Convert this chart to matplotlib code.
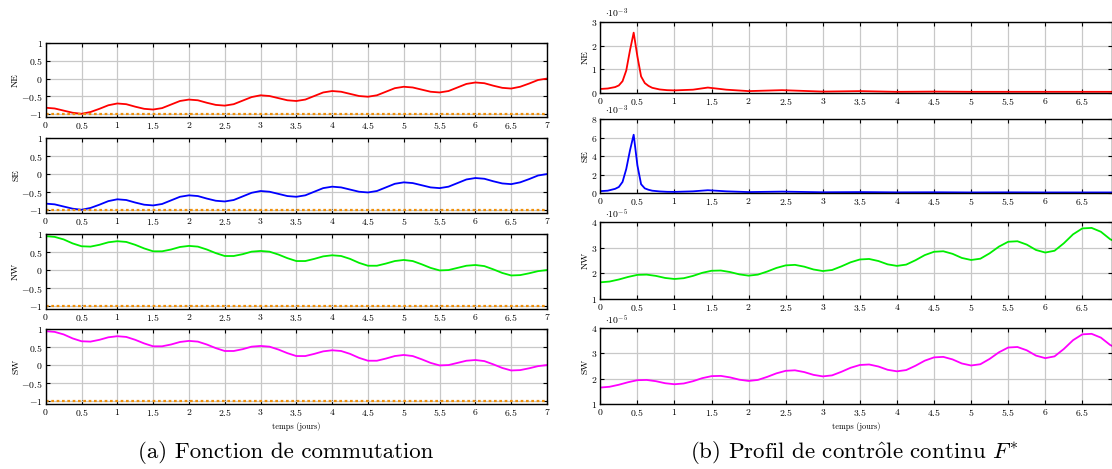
import numpy as np
import matplotlib
matplotlib.use("Agg")
import matplotlib.pyplot as plt
from matplotlib.ticker import FuncFormatter

plt.rcParams['font.family'] = 'serif'
plt.rcParams['font.serif'] = ['cmr10']
plt.rcParams['mathtext.fontset'] = 'cm'
plt.rcParams['axes.formatter.use_mathtext'] = True

# temps (jours), pas de 0.125
temps = np.arange(57) * 0.125

# (a) fonction de commutation
ne_gauche = [-0.82, -0.84, -0.90, -0.96, -0.99, -0.94, -0.85, -0.75, -0.70, -0.72, -0.79, -0.85,
             -0.87, -0.83, -0.73, -0.63, -0.59, -0.61, -0.68, -0.74, -0.76, -0.72, -0.62, -0.52,
             -0.47, -0.49, -0.55, -0.61, -0.63, -0.59, -0.49, -0.39, -0.35, -0.37, -0.43, -0.49,
             -0.51, -0.47, -0.37, -0.27, -0.23, -0.25, -0.31, -0.37, -0.39, -0.35, -0.25, -0.15,
             -0.11, -0.13, -0.20, -0.26, -0.28, -0.23, -0.14, -0.04, 0.00]
se_gauche = list(ne_gauche)
nw_gauche = [0.94, 0.92, 0.85, 0.74, 0.66, 0.65, 0.70, 0.77, 0.80, 0.78, 0.70, 0.60,
             0.52, 0.52, 0.57, 0.64, 0.67, 0.65, 0.57, 0.47, 0.39, 0.39, 0.44, 0.51,
             0.53, 0.51, 0.43, 0.33, 0.25, 0.25, 0.31, 0.38, 0.41, 0.39, 0.31, 0.20,
             0.12, 0.12, 0.18, 0.25, 0.28, 0.25, 0.16, 0.06, -0.01, 0.00, 0.06, 0.12,
             0.14, 0.11, 0.02, -0.08, -0.15, -0.14, -0.09, -0.03, 0.00]
sw_gauche = list(nw_gauche)
seuil = -1.0

# (b) profil de controle continu
temps_pic = [0, 0.1, 0.2, 0.25, 0.3, 0.35, 0.4, 0.45, 0.5, 0.55, 0.6, 0.65, 0.7, 0.8, 0.9,
             1.0, 1.25, 1.45, 1.7, 2.0, 2.45, 3.0, 3.5, 4.0, 4.5, 5.0, 5.5, 6.0, 6.5, 7.0]
ne_droite = [0.17, 0.19, 0.25, 0.32, 0.50, 0.95, 1.80, 2.55, 1.55, 0.70, 0.42, 0.30, 0.22, 0.15, 0.12,
             0.11, 0.14, 0.23, 0.14, 0.08, 0.12, 0.06, 0.08, 0.05, 0.06, 0.05, 0.05, 0.05, 0.05, 0.05]  # x1e-3
se_droite = [0.20, 0.25, 0.45, 0.65, 1.20, 2.60, 4.60, 6.30, 3.00, 0.95, 0.50, 0.35, 0.25, 0.17, 0.13,
             0.12, 0.18, 0.30, 0.18, 0.10, 0.15, 0.08, 0.10, 0.07, 0.08, 0.06, 0.07, 0.06, 0.06, 0.06]  # x1e-3
nw_droite = [1.65, 1.68, 1.76, 1.86, 1.94, 1.95, 1.90, 1.82, 1.78, 1.81, 1.90, 2.02,
             2.10, 2.11, 2.05, 1.96, 1.91, 1.95, 2.07, 2.21, 2.31, 2.33, 2.26, 2.15,
             2.09, 2.13, 2.27, 2.43, 2.54, 2.56, 2.48, 2.35, 2.29, 2.34, 2.51, 2.71,
             2.84, 2.86, 2.76, 2.60, 2.52, 2.57, 2.78, 3.04, 3.23, 3.25, 3.12, 2.91,
             2.81, 2.88, 3.17, 3.52, 3.75, 3.77, 3.62, 3.33, 3.15]  # x1e-5
sw_droite = list(nw_droite)

W, H = 1112, 469
fig = plt.figure(figsize=(W / 100, H / 100), dpi=100)

def axe(x0, x1, y0, y1):
    return fig.add_axes([x0 / W, 1 - y1 / H, (x1 - x0) / W, (y1 - y0) / H])

fmt = FuncFormatter(lambda v, p: f'${v:g}$')

def style(ax, xmax, xt):
    ax.set_xlim(0, xmax)
    ax.set_xticks(xt)
    ax.xaxis.set_major_formatter(fmt)
    ax.yaxis.set_major_formatter(fmt)
    ax.grid(True, color='#c8c8c8', lw=0.9)
    ax.set_axisbelow(True)
    ax.tick_params(direction='in', top=True, right=True, labelsize=7, length=3,
                   width=0.8, pad=2)
    for s in ax.spines.values():
        s.set_linewidth(1.0)

# colonne de gauche
gauche = [(ne_gauche, 'red', 'NE', 43, 117), (se_gauche, 'blue', 'SE', 138, 213),
          (nw_gauche, '#00ee00', 'NW', 234, 309), (sw_gauche, 'magenta', 'SW', 329, 404)]
for serie, c, nom, y0, y1 in gauche:
    ax = axe(45.7, 547, y0, y1)
    ax.plot(temps, serie, color=c, lw=1.3)
    ax.axhline(seuil, color='#f0900a', lw=1.6, ls=(0, (1.2, 1.2)))
    ax.set_ylim(-1.08, 1)
    ax.set_yticks([-1, -0.5, 0, 0.5, 1])
    style(ax, 7, np.arange(0, 7.01, 0.5))
    ax.set_ylabel(nom, fontsize=7, labelpad=1)
ax.set_xlabel('temps (jours)', fontsize=6, labelpad=3)

# colonne de droite
droite = [(temps_pic, ne_droite, 'red', 'NE', 22, 93, (0, 3), [0, 1, 2, 3], -3),
          (temps_pic, se_droite, 'blue', 'SE', 119, 193, (0, 8), [0, 2, 4, 6, 8], -3),
          (temps, nw_droite, '#00ee00', 'NW', 222, 299, (1, 4), [1, 2, 3, 4], -5),
          (temps, sw_droite, 'magenta', 'SW', 328, 404, (1, 4), [1, 2, 3, 4], -5)]
for tx, serie, c, nom, y0, y1, yl, yt, ex in droite:
    ax = axe(600.3, 1112, y0, y1)
    ax.plot(tx, serie, color=c, lw=1.3)
    ax.set_ylim(*yl)
    ax.set_yticks(yt)
    style(ax, 6.9, np.arange(0, 6.51, 0.5))
    ax.set_ylabel(nom, fontsize=7, labelpad=1)
    ax.text(0.01, 1.03, r'$\cdot 10^{%d}$' % ex, transform=ax.transAxes,
            fontsize=7, va='bottom', ha='left')
ax.set_xlabel('temps (jours)', fontsize=6, labelpad=3)

fig.text(286 / W, 1 - 452 / H, '(a) Fonction de commutation', fontsize=16.5,
         ha='center', va='center')
fig.text(854 / W, 1 - 452 / H,
         r'(b) Profil de contr$\hat{\mathrm{o}}$le continu $F^{*}$',
         fontsize=16.5, ha='center', va='center')

fig.savefig('out.png', dpi=100)
